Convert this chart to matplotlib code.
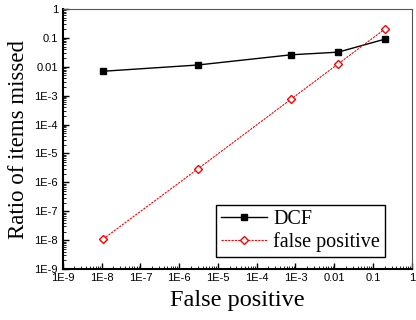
import matplotlib
matplotlib.use("Agg")
from matplotlib import pyplot as plt
from matplotlib.ticker import LogLocator, FixedLocator, NullFormatter

fp_rate = [1.1e-8, 3.0e-6, 7.8e-4, 0.0125, 0.2]
dcf_missed = [0.007, 0.0115, 0.026, 0.032, 0.09]
fp_missed = [1.1e-8, 2.9e-6, 7.7e-4, 0.0125, 0.2]

tick_vals = [1e-9, 1e-8, 1e-7, 1e-6, 1e-5, 1e-4, 1e-3, 0.01, 0.1, 1]
tick_labels = ['1E-9', '1E-8', '1E-7', '1E-6', '1E-5', '1E-4', '1E-3', '0.01', '0.1', '1']

fig = plt.figure(figsize=(4.16, 3.2), dpi=100)
ax = fig.add_axes([0.151, 0.159, 0.839, 0.813])

ax.plot(fp_rate, dcf_missed, color='black', lw=1, marker='s', ms=4.3, label='DCF')
ax.plot(fp_rate, fp_missed, color='red', lw=0.8, ls=(0, (2, 1)), marker='D', ms=4.3,
        mfc='white', mec='red', label='false positive')

ax.set_xscale('log')
ax.set_yscale('log')
ax.set_xlim(1e-9, 1)
ax.set_ylim(1e-9, 1)

for axis in (ax.xaxis, ax.yaxis):
    axis.set_major_locator(FixedLocator(tick_vals))
    axis.set_minor_locator(LogLocator(base=10, subs=range(2, 10), numticks=20))
    axis.set_minor_formatter(NullFormatter())
ax.set_xticklabels(tick_labels, fontfamily='Liberation Sans', fontsize=8)
ax.set_yticklabels(tick_labels, fontfamily='Liberation Sans', fontsize=8)
ax.tick_params(which='major', direction='in', length=4, width=1, top=False, right=False)
ax.tick_params(which='minor', direction='in', length=2, width=0.6, top=False, right=False)
ax.tick_params(axis='x', pad=3)

for side in ('left', 'bottom'):
    ax.spines[side].set_linewidth(1.5)
for side in ('top', 'right'):
    ax.spines[side].set_linewidth(0.8)
    ax.spines[side].set_color('#555555')

ax.set_xlabel('False positive', fontfamily='Liberation Serif', fontsize=17.5, labelpad=5)
ax.set_ylabel('Ratio of items missed', fontfamily='Liberation Serif', fontsize=16.5, labelpad=4)

ax.legend(loc='lower right', bbox_to_anchor=(0.923, 0.046), prop={'family': 'Liberation Serif', 'size': 14.5},
          frameon=True, fancybox=False, edgecolor='black', framealpha=1,
          handlelength=2.3, borderpad=0.25, labelspacing=0.15, handletextpad=0.3, borderaxespad=0)

fig.savefig('out.png', dpi=100)
